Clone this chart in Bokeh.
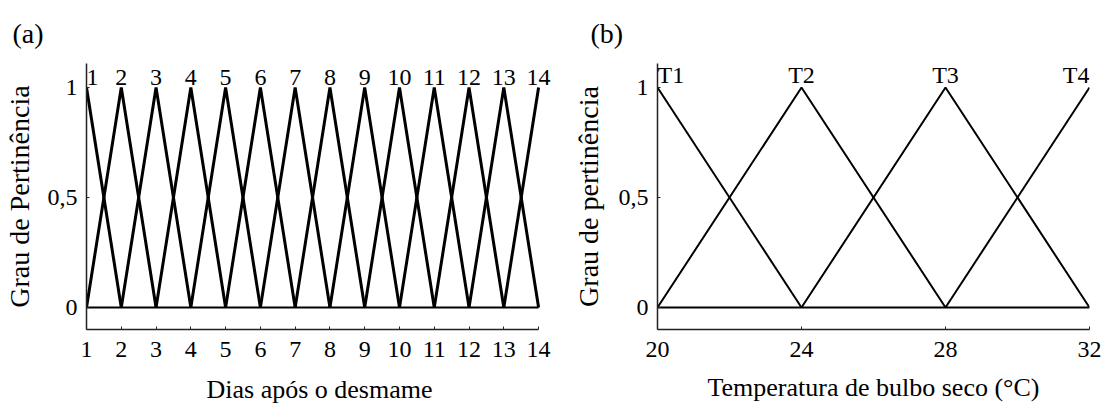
from bokeh.plotting import figure
from bokeh.layouts import row
from bokeh.models import Range1d, FixedTicker, LabelSet, ColumnDataSource
from bokeh.embed import file_html
from bokeh.resources import INLINE

# ---------------- data ----------------
days = [1, 2, 3, 4, 5, 6, 7, 8, 9, 10, 11, 12, 13, 14]
day_labels = ["1", "2", "3", "4", "5", "6", "7", "8", "9", "10", "11", "12", "13", "14"]
day_halfwidth = 1

temps = [20, 24, 28, 32]
temp_labels = ["T1", "T2", "T3", "T4"]
temp_halfwidth = 4

y_ticks = [0, 0.5, 1]
y_tick_labels = {0: "0", 0.5: "0,5", 1: "1"}

FONT = "Liberation Serif"


def tri_lines(centers, hw, lo, hi):
    xs, ys = [], []
    for c in centers:
        cx, cy = [], []
        for x, y in [(c - hw, 0.0), (c, 1.0), (c + hw, 0.0)]:
            if lo <= x <= hi:
                cx.append(x)
                cy.append(y)
        xs.append(cx)
        ys.append(cy)
    return xs, ys


def make_panel(centers, labels, hw, xlo, xhi, xpad, ylabel, xlabel, tag, tag_off,
               width, bl, br, lw, aligns, label_y, ylab_std, xlab_std):
    p = figure(width=width, height=407, output_backend="svg", toolbar_location=None,
               x_range=Range1d(xlo, xhi + xpad), y_range=Range1d(-0.1, 1.109),
               min_border_left=bl, min_border_right=br, min_border_top=63,
               min_border_bottom=78)
    p.outline_line_color = None
    p.grid.visible = False
    p.background_fill_color = "white"
    p.border_fill_color = "white"

    p.title.text = tag
    p.title.align = "left"
    p.title.offset = tag_off
    p.title.standoff = 29
    p.title.text_font = FONT
    p.title.text_font_size = "28px"
    p.title.text_font_style = "normal"
    p.title.text_color = "black"

    xs, ys = tri_lines(centers, hw, xlo, xhi)
    p.multi_line(xs, ys, line_color="black", line_width=lw)
    p.line([xlo, xhi], [0, 0], line_color="black", line_width=2)

    src = ColumnDataSource(dict(x=centers, y=[label_y] * len(centers), t=labels, a=aligns))
    ls = LabelSet(x="x", y="y", text="t", source=src, text_align="a",
                  text_baseline="alphabetic", text_font=FONT, text_font_size="24px",
                  text_color="black")
    p.add_layout(ls)

    p.xaxis.ticker = FixedTicker(ticks=centers)
    p.xaxis.bounds = (xlo, xhi)
    p.yaxis.ticker = FixedTicker(ticks=y_ticks)
    p.yaxis.major_label_overrides = y_tick_labels
    for ax in (p.xaxis, p.yaxis):
        ax.axis_line_color = "#222222"
        ax.axis_line_width = 1.5
        ax.major_tick_in = 3
        ax.major_tick_out = 0
        ax.major_tick_line_color = "#222222"
        ax.minor_tick_line_color = None
        ax.major_label_text_font = FONT
        ax.major_label_text_font_size = "24px"
        ax.major_label_text_color = "black"
        ax.axis_label_text_font = FONT
        ax.axis_label_text_font_style = "normal"
        ax.axis_label_text_color = "black"
    p.xaxis.axis_label_text_font_size = "26px"
    p.yaxis.axis_label_text_font_size = "28px"
    p.xaxis.axis_label = xlabel
    p.yaxis.axis_label = ylabel
    p.xaxis.major_label_standoff = 12
    p.yaxis.major_label_standoff = 9
    p.xaxis.axis_label_standoff = xlab_std
    p.yaxis.axis_label_standoff = ylab_std
    return p


pa = make_panel(days, day_labels, day_halfwidth, 1, 14, 0.4, "Grau de Pertinência",
                "Dias após o desmame", "(a)", -74, 560, 86, 8, 3,
                ["left"] + ["center"] * 13, 1.01, 10, 15)
pb = make_panel(temps, temp_labels, temp_halfwidth, 20, 32, 0.0, "Grau de pertinência",
                "Temperatura de bulbo seco (°C)", "(b)", -67, 547, 97, 18, 2,
                ["left", "center", "center", "right"], 1.02, 12, 13)

layout = row(pa, pb)
open("out.html", "w").write(file_html(layout, INLINE))
